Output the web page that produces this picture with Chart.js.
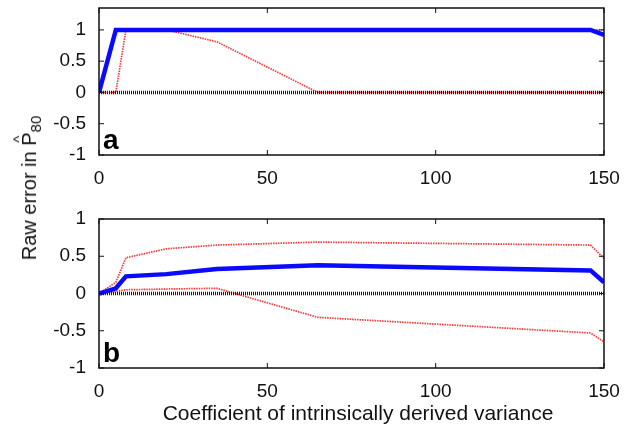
<!DOCTYPE html>
<html lang="en">
<head>
    <meta charset="UTF-8" />
    <title>Raw error in P80</title>
    <script src="https://cdn.jsdelivr.net/npm/chart.js"></script>
    <style>
        body { margin: 0; background: #fff; font-family: "Liberation Sans", Arial, sans-serif; }
        .wrap { position: relative; width: 631px; height: 430px; }
        canvas { position: absolute; left: 0; }
        #chartA { top: 0; }
        #chartB { top: 200px; }
        .ytitle {
            position: absolute; left: 31px; top: 188px;
            transform: translate(-50%, -50%) rotate(-90deg);
            white-space: nowrap; font-size: 20px; color: #111;
        }
        .ytitle .hat { position: relative; display: inline-block; }
        .ytitle .hat::before {
            content: "^"; position: absolute; left: 3px; top: -8px; font-size: 15px;
        }
        .ytitle sub { font-size: 15px; vertical-align: -5px; }
        .xtitle {
            position: absolute; left: 358px; top: 413px;
            transform: translate(-50%, -50%);
            white-space: nowrap; font-size: 21px; color: #111;
        }
    </style>
</head>
<body>
<div class="wrap">
    <canvas id="chartA" width="631" height="185"></canvas>
    <canvas id="chartB" width="631" height="230"></canvas>
    <div class="ytitle">Raw error in <span class="hat">P</span><sub>80</sub></div>
    <div class="xtitle">Coefficient of intrinsically derived variance</div>
</div>

<script>
    // coefficient values (x) shared by every series
    const xVals = [0, 5, 8, 20, 35, 65, 146, 150];
    const xTicks = [0, 50, 100, 150];
    const yTicks = [-1, -0.5, 0, 0.5, 1];

    // panel a
    const aMean  = [0, 1, 1, 1, 1, 1, 1, 0.92];
    const aUpper = [0, 1, 1, 1, 1, 1, 1, 1];
    const aLower = [0, 0, 1, 1, 0.81, 0, 0, 0];
    const aZero  = [0, 0, 0, 0, 0, 0, 0, 0];

    // panel b
    const bMean  = [0, 0.07, 0.23, 0.26, 0.33, 0.38, 0.31, 0.15];
    const bUpper = [0, 0.15, 0.48, 0.60, 0.65, 0.69, 0.65, 0.47];
    const bLower = [0, 0.03, 0.05, 0.06, 0.07, -0.32, -0.53, -0.65];
    const bZero  = [0, 0, 0, 0, 0, 0, 0, 0];

    const pts = ys => ys.map((y, i) => ({ x: xVals[i], y: y }));

    // box + inward ticks + panel letter, matlab style
    const framePlugin = {
        id: 'frame',
        afterDatasetsDraw(chart, args, opts) {
            const { ctx, chartArea: a, scales } = chart;
            ctx.save();
            ctx.strokeStyle = '#111';
            ctx.lineWidth = 1.5;
            ctx.strokeRect(a.left, a.top, a.right - a.left, a.bottom - a.top);
            ctx.lineWidth = 1;
            scales.x.ticks.forEach(t => {
                const px = scales.x.getPixelForValue(t.value);
                ctx.beginPath();
                ctx.moveTo(px, a.bottom); ctx.lineTo(px, a.bottom - 5);
                ctx.moveTo(px, a.top); ctx.lineTo(px, a.top + 5);
                ctx.stroke();
            });
            scales.y.ticks.forEach(t => {
                const py = scales.y.getPixelForValue(t.value);
                ctx.beginPath();
                ctx.moveTo(a.left, py); ctx.lineTo(a.left + 5, py);
                ctx.moveTo(a.right, py); ctx.lineTo(a.right - 5, py);
                ctx.stroke();
            });
            ctx.fillStyle = '#000';
            ctx.font = 'bold 28px "Liberation Sans", Arial, sans-serif';
            ctx.textBaseline = 'alphabetic';
            ctx.fillText(opts.letter, a.left + 4, a.bottom - 6);
            ctx.restore();
        }
    };

    function makeChart(id, letter, mean, upper, lower, zero, yMax, topPad, xHeight) {
        const red = 'rgba(235, 40, 40, 0.9)';
        return new Chart(document.getElementById(id), {
            type: 'line',
            data: {
                datasets: [
                    { data: pts(zero), borderColor: '#1a1a1a', borderWidth: 3.5, borderDash: [1, 1] },
                    { data: pts(mean), borderColor: '#0a0aff', borderWidth: 4.5 },
                    { data: pts(upper), borderColor: red, borderWidth: 1.7, borderDash: [1.5, 1] },
                    { data: pts(lower), borderColor: red, borderWidth: 1.7, borderDash: [1.5, 1] }
                ]
            },
            options: {
                responsive: false,
                animation: false,
                events: [],
                elements: { point: { radius: 0 }, line: { tension: 0, borderCapStyle: 'butt' } },
                layout: { padding: { top: topPad, right: 27, left: 0, bottom: 0 } },
                plugins: { legend: { display: false }, tooltip: { enabled: false }, frame: { letter: letter } },
                scales: {
                    x: {
                        type: 'linear', min: 0, max: 150,
                        grid: { display: false }, border: { display: false },
                        afterBuildTicks: s => { s.ticks = xTicks.map(v => ({ value: v })); },
                        afterFit: s => { s.height = xHeight; s.paddingLeft = 0; s.paddingRight = 0; },
                        ticks: {
                            color: '#111', padding: 4, maxRotation: 0,
                            font: { size: 19, family: '"Liberation Sans", Arial, sans-serif' }
                        }
                    },
                    y: {
                        min: -1, max: yMax,
                        grid: { display: false }, border: { display: false },
                        afterBuildTicks: s => { s.ticks = yTicks.map(v => ({ value: v })); },
                        afterFit: s => { s.width = 99; s.paddingTop = 0; s.paddingBottom = 0; },
                        ticks: {
                            color: '#111', padding: 5,
                            callback: v => String(v),
                            font: { size: 19, family: '"Liberation Sans", Arial, sans-serif' }
                        }
                    }
                }
            },
            plugins: [framePlugin]
        });
    }

    makeChart('chartA', 'a', aMean, aUpper, aLower, aZero, 1.35, 8, 30);
    makeChart('chartB', 'b', bMean, bUpper, bLower, bZero, 1, 19, 62);
</script>
</body>
</html>
